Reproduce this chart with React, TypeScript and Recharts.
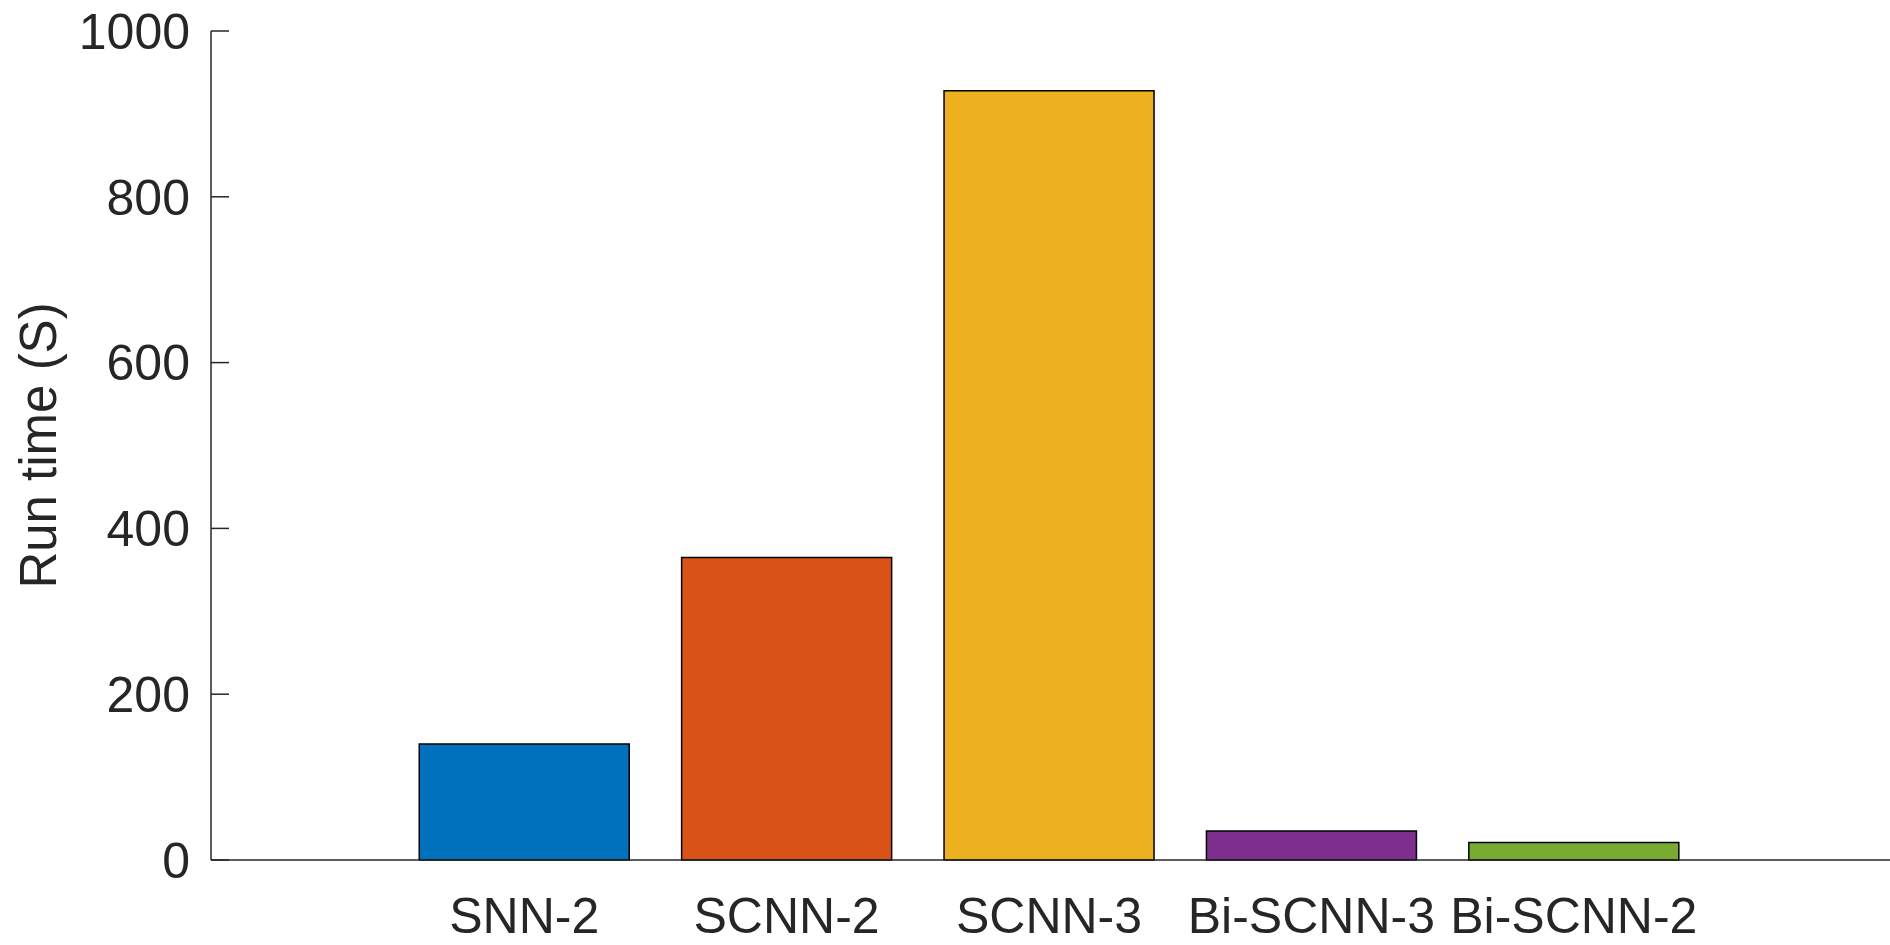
import React from "react";
import { Bar, BarChart, Cell, Label, XAxis, YAxis } from "recharts";

const categories = ["SNN-2", "SCNN-2", "SCNN-3", "Bi-SCNN-3", "Bi-SCNN-2"];
const runTimes = [140, 365, 928, 35, 21];
const barColors = ["#0072BD", "#D95319", "#EDB120", "#7E2F8E", "#77AC30"];
const yTicks = [0, 200, 400, 600, 800, 1000];

const AXIS = "#262626";
const FONT = "'Liberation Sans', Arial, Helvetica, sans-serif";

const chartData = categories.map((name, i) => ({ name, value: runTimes[i] }));

// MATLAB-style inward ticks on the y axis
function YTick(props: any) {
	const { x, y, payload } = props;
	const axisX = x + 21;
	return (
		<g>
			<line x1={axisX} y1={y} x2={axisX + 18} y2={y} stroke={AXIS} strokeWidth={1.5} />
			<text x={x} y={y} dy="0.355em" textAnchor="end" fill={AXIS} fontSize={50} fontFamily={FONT}>
				{payload.value}
			</text>
		</g>
	);
}

function YLabel(props: any) {
	const { viewBox } = props;
	const cx = viewBox.x + 38;
	const cy = viewBox.y + viewBox.height / 2;
	return (
		<text
			x={cx}
			y={cy}
			dy="0.355em"
			transform={`rotate(-90, ${cx}, ${cy})`}
			textAnchor="middle"
			fill={AXIS}
			fontSize={51}
			fontFamily={FONT}
		>
			Run time (S)
		</text>
	);
}

export default function App() {
	return (
		<div style={{ position: "absolute", left: 0, top: 0, background: "#fff" }}>
			<BarChart
				width={1890}
				height={945}
				data={chartData}
				margin={{ top: 31, right: 0, left: 0, bottom: 0 }}
				barCategoryGap="10%"
			>
				<XAxis
					dataKey="name"
					height={85}
					padding={{ left: 182, right: 185 }}
					axisLine={{ stroke: AXIS, strokeWidth: 1.5 }}
					tickLine={false}
					tickSize={0}
					tickMargin={37}
					interval={0}
					tick={{ fill: AXIS, fontSize: 50, fontFamily: FONT }}
				/>
				<YAxis
					width={211}
					domain={[0, 1000]}
					ticks={yTicks}
					interval={0}
					axisLine={{ stroke: AXIS, strokeWidth: 1.5 }}
					tickLine={false}
					tickSize={0}
					tickMargin={21}
					tick={<YTick />}
				>
					<Label content={<YLabel />} />
				</YAxis>
				<Bar dataKey="value" stroke="#000" strokeWidth={1.5} isAnimationActive={false}>
					{chartData.map((d, i) => (
						<Cell key={d.name} fill={barColors[i]} />
					))}
				</Bar>
			</BarChart>
		</div>
	);
}
